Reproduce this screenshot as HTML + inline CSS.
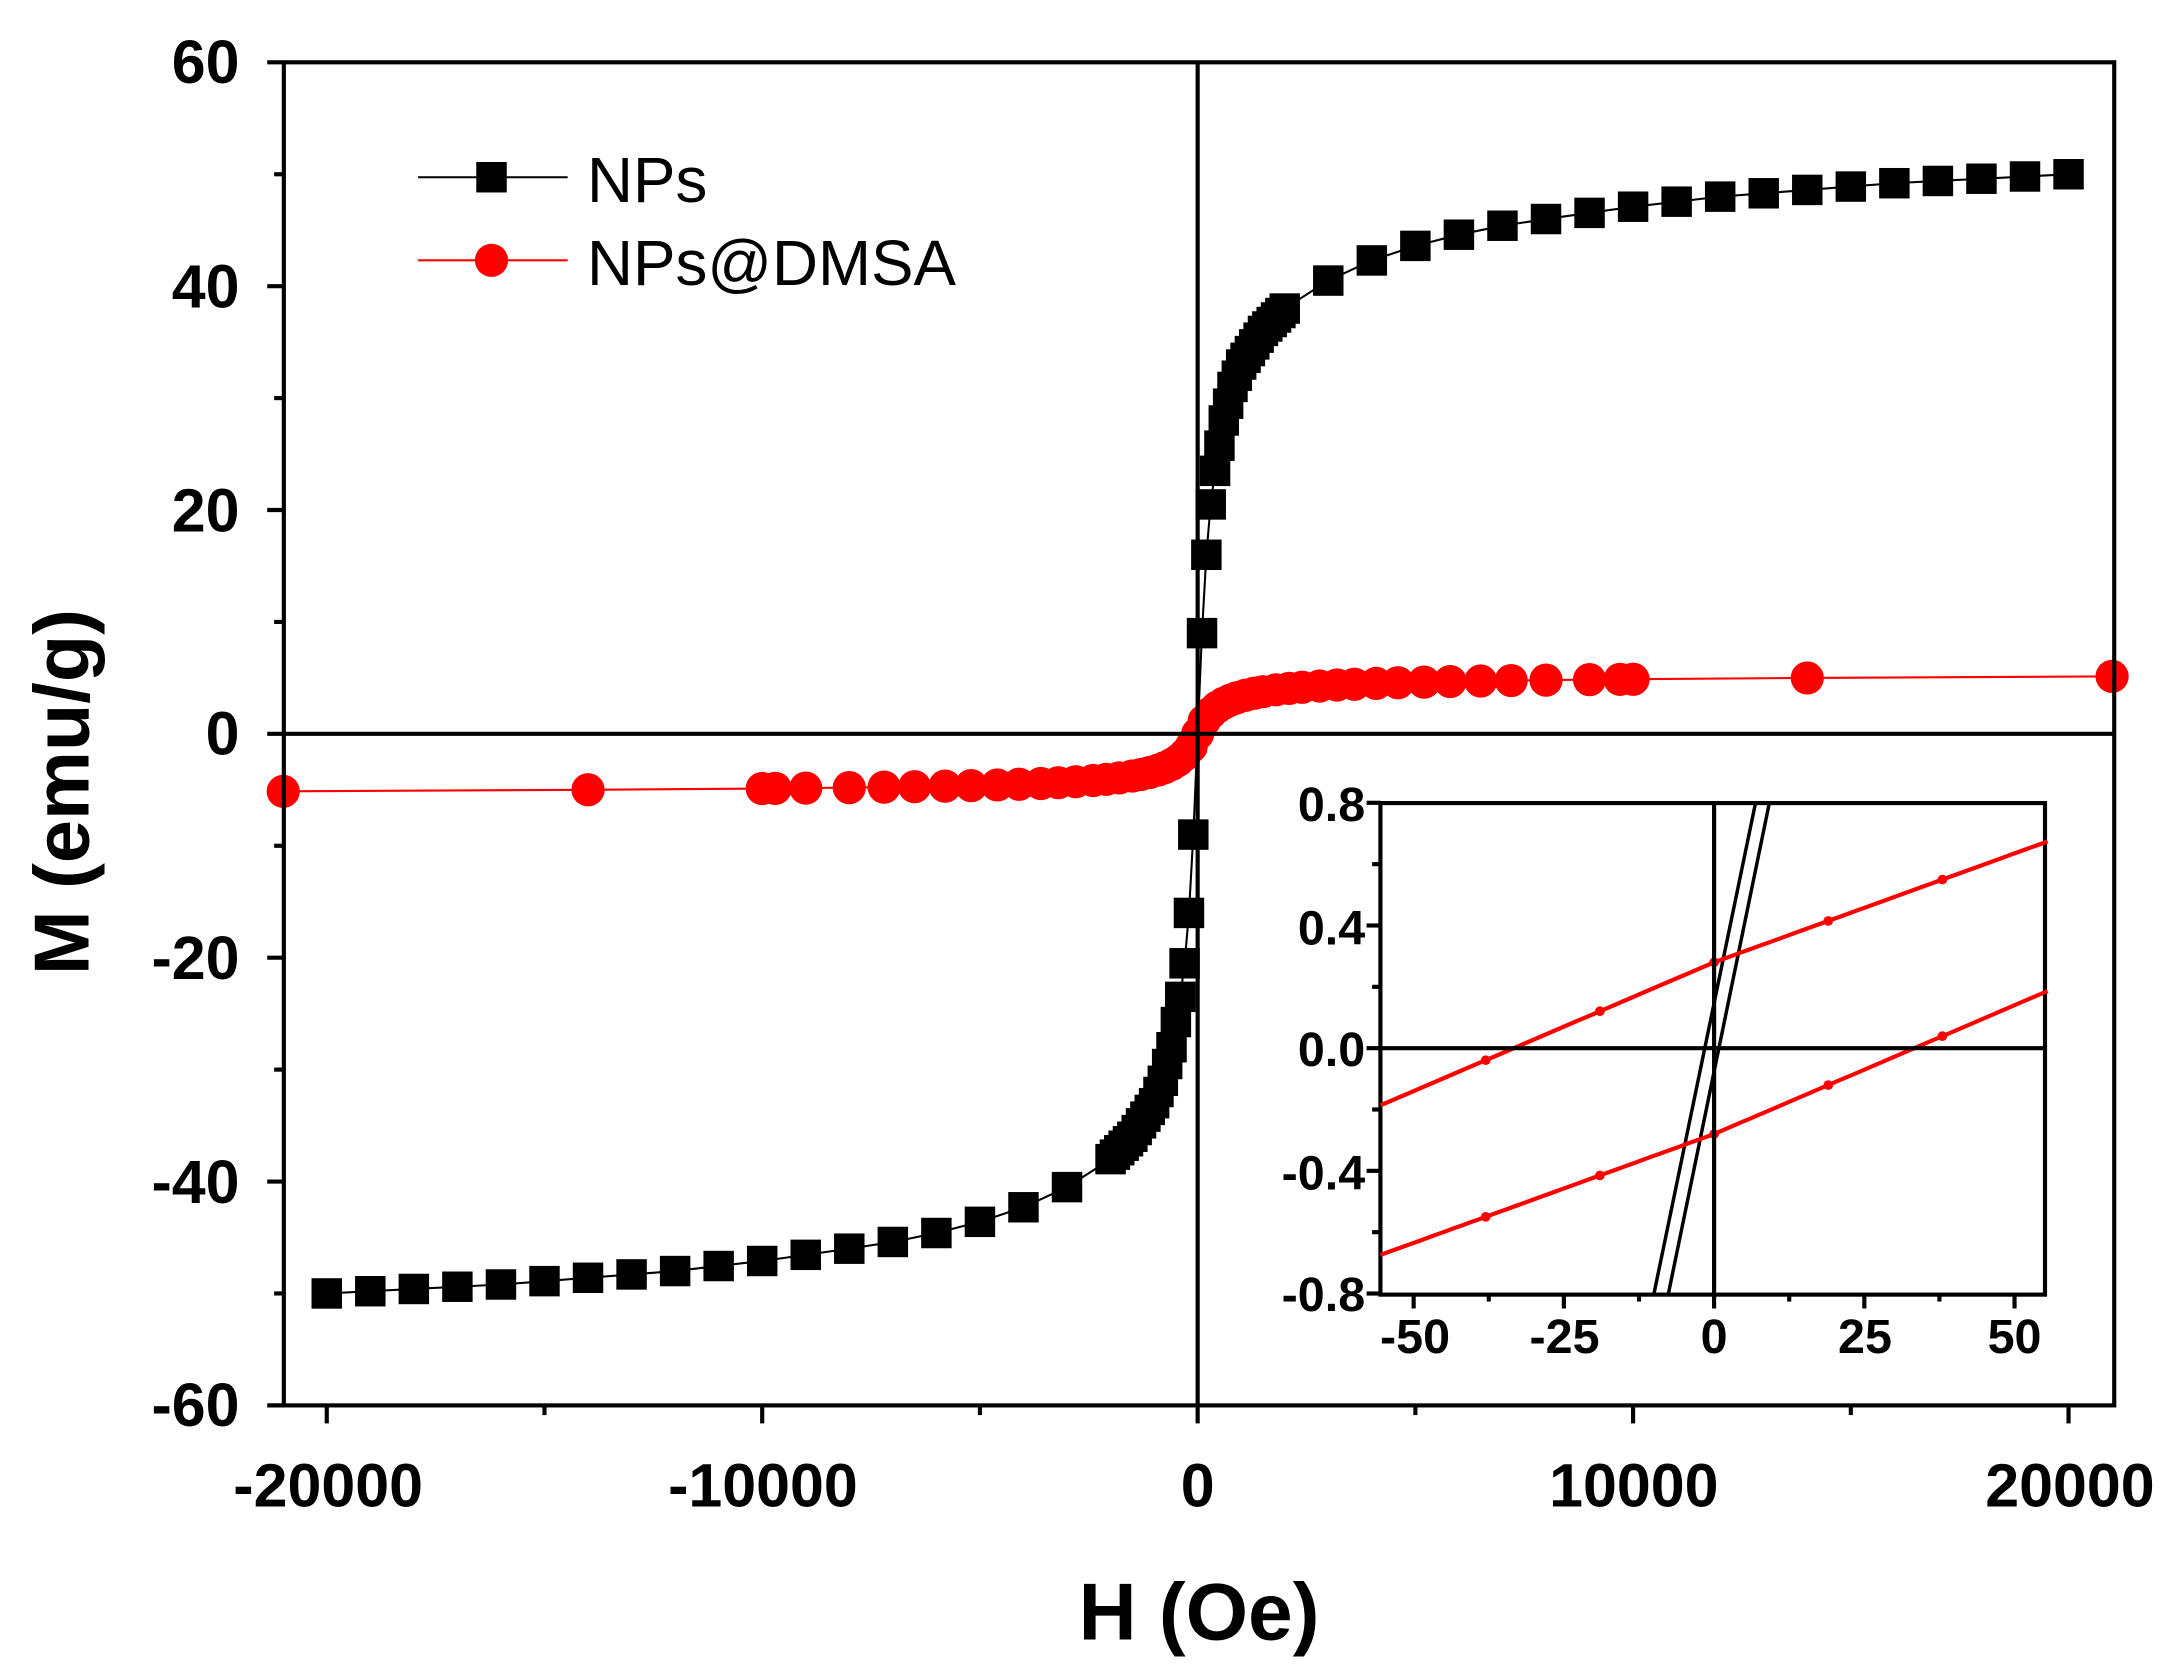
<!DOCTYPE html>
<html><head><meta charset="utf-8">
<style>html,body{margin:0;padding:0;background:#fff;}svg{display:block;}
text{font-family:"Liberation Sans",Arial,sans-serif;}</style></head>
<body>
<svg id="s" width="2171" height="1679" viewBox="0 0 1568 1212.6" preserveAspectRatio="none" xmlns="http://www.w3.org/2000/svg">
<rect width="1568" height="1212.6" fill="#fff"/>
<g id="main"></g>
<rect x="205" y="45" width="1322" height="970" fill="none" stroke="#000" stroke-width="3"/>
<line x1="205" y1="530" x2="1527" y2="530" stroke="#000" stroke-width="3"/>
<line x1="865" y1="45" x2="865" y2="1015" stroke="#000" stroke-width="3"/>
<g id="ticks" stroke="#000" stroke-width="3"></g>
<g font-weight="bold" font-size="44" text-anchor="end">
<text x="173" y="60">60</text>
<text x="173" y="222">40</text>
<text x="173" y="384">20</text>
<text x="173" y="545">0</text>
<text x="173" y="707">-20</text>
<text x="173" y="869">-40</text>
<text x="173" y="1030">-60</text>
</g>
<g font-weight="bold" font-size="44" text-anchor="middle">
<text x="237" y="1088">-20000</text>
<text x="551" y="1088">-10000</text>
<text x="865" y="1088">0</text>
<text x="1180" y="1088">10000</text>
<text x="1495" y="1088">20000</text>
</g>
<text x="866" y="1184" font-weight="bold" font-size="58" text-anchor="middle">H (Oe)</text>
<text transform="translate(64,572) rotate(-90)" font-weight="bold" font-size="56" text-anchor="middle">M (emu/g)</text>
<line x1="302" y1="128" x2="410" y2="128" stroke="#000" stroke-width="1.5"/>
<rect x="344" y="117" width="22" height="22" fill="#000"/>
<text x="424" y="146" font-size="46">NPs</text>
<line x1="302" y1="188" x2="410" y2="188" stroke="#f00" stroke-width="1.5"/>
<circle cx="355" cy="188" r="12" fill="#f00"/>
<text x="424" y="206" font-size="46">NPs@DMSA</text>
<rect x="997" y="580" width="480" height="355" fill="#fff" stroke="#000" stroke-width="3"/>
<g id="inset"></g>
<line x1="997" y1="757" x2="1477" y2="757" stroke="#000" stroke-width="3"/>
<line x1="1238" y1="580" x2="1238" y2="935" stroke="#000" stroke-width="3"/>
<g id="iticks" stroke="#000" stroke-width="3"></g>
<g font-weight="bold" font-size="35" text-anchor="end">
<text x="986" y="593">0.8</text>
<text x="986" y="682">0.4</text>
<text x="986" y="770">0.0</text>
<text x="986" y="859">-0.4</text>
<text x="986" y="947">-0.8</text>
</g>
<g font-weight="bold" font-size="35" text-anchor="middle">
<text x="1022" y="977">-50</text>
<text x="1130" y="977">-25</text>
<text x="1238" y="977">0</text>
<text x="1347" y="977">25</text>
<text x="1455" y="977">50</text>
</g>
</svg>
<script>
var NS="http://www.w3.org/2000/svg";
function el(p,t,a){var e=document.createElementNS(NS,t);for(var k in a)e.setAttribute(k,a[k]);document.getElementById(p).appendChild(e);return e;}
function X(h){return 865+h*0.03145;} function Y(m){return 530-m*8.083;}
for(var v=-60;v<=60;v+=10){el("ticks","line",{x1:205,x2:v%20==0?193:198,y1:Y(v),y2:Y(v)});}
for(var h=-20000;h<=20000;h+=5000){el("ticks","line",{x1:X(h),x2:X(h),y1:1015,y2:h%10000==0?1028:1022});}
var A=[[0,0],[100,9],[200,16],[300,20.5],[400,23.5],[600,28],[800,31],[1000,33],[1500,36],[2000,38],[3000,40.5],[4000,42.3],[5000,43.6],[6000,44.6],[7000,45.4],[8000,46],[10000,47.1],[12000,48],[14000,48.6],[16000,49.2],[18000,49.6],[20000,50]];
function f(h){var s=h<0?-1:1;h=Math.abs(h);for(var i=1;i<A.length;i++){if(h<=A[i][0]){var a=A[i-1],b=A[i];return s*(a[1]+(b[1]-a[1])*(h-a[0])/(b[0]-a[0]));}}return s*50;}
var hs=[100,200,300,400];for(var h=500;h<=2000;h+=100)hs.push(h);for(var h=3000;h<=20000;h+=1000)hs.push(h);
var all=[];hs.forEach(function(h){all.push(h);all.push(-h);});all.sort(function(a,b){return a-b;});
var d="";all.forEach(function(h,i){d+=(i?"L":"M")+X(h).toFixed(1)+","+Y(f(h)).toFixed(1);});
function g(h){return 5.0*h/(Math.abs(h)+500)+0.000012*h;}
var rp=[21000,14000,10000,9700,9000,8000,7200,6500,5800,5200,4600,4100,3600,3200,2800,2400,2100,1800,1500,1300,1100,900,750,600,450,300,150,0];
var ra=[];rp.forEach(function(h){ra.push(h);if(h>0)ra.push(-h);});ra.sort(function(a,b){return a-b;});
var dr="";ra.forEach(function(h,i){dr+=(i?"L":"M")+X(h).toFixed(1)+","+Y(g(h)).toFixed(1);});
el("main","path",{d:dr,fill:"none",stroke:"#f00","stroke-width":1.5});
ra.forEach(function(h){el("main","circle",{cx:X(h),cy:Y(g(h)),r:12,fill:"#f00"});});
el("main","path",{d:d,fill:"none",stroke:"#000","stroke-width":1.5});
all.forEach(function(h){el("main","rect",{x:X(h)-11,y:Y(f(h))-11,width:22,height:22,fill:"#000"});});
function XI(h){return 1238+h*4.34;} function YI(m){return 757-m*221.5;}
for(var v=-0.8;v<=0.81;v+=0.2){var mj=Math.abs(Math.round(v*10))%4==0;el("iticks","line",{x1:997,x2:mj?987:991,y1:YI(v),y2:YI(v)});}
for(var h=-50;h<=50;h+=12.5){var mj=(h%25==0);el("iticks","line",{x1:XI(h),x2:XI(h),y1:935,y2:mj?945:940});}
function ln(x1,y1,x2,y2,c,w){el("inset","line",{x1:XI(x1),y1:YI(y1),x2:XI(x2),y2:YI(y2),stroke:c,"stroke-width":w});}
ln(-10,-0.8,6.9,0.8,"#000",2.5);ln(-7.6,-0.8,9.2,0.8,"#000",2.5);
function up(h){return 0.28+h*(h<0?0.0084:0.0071);} function lo(h){return -up(-h);}
var ip="",lp="";for(var h=-55.5;h<=55.5;h+=1.5){ip+=(ip?"L":"M")+XI(h).toFixed(1)+","+YI(up(h)).toFixed(1);lp+=(lp?"L":"M")+XI(h).toFixed(1)+","+YI(lo(h)).toFixed(1);}
el("inset","path",{d:ip,fill:"none",stroke:"#f00","stroke-width":3});
el("inset","path",{d:lp,fill:"none",stroke:"#f00","stroke-width":3});
[-38,-19,0,19,38].forEach(function(h){el("inset","circle",{cx:XI(h),cy:YI(up(h)),r:3.5,fill:"#f00"});el("inset","circle",{cx:XI(h),cy:YI(lo(h)),r:3.5,fill:"#f00"});});
</script>
</body></html>
